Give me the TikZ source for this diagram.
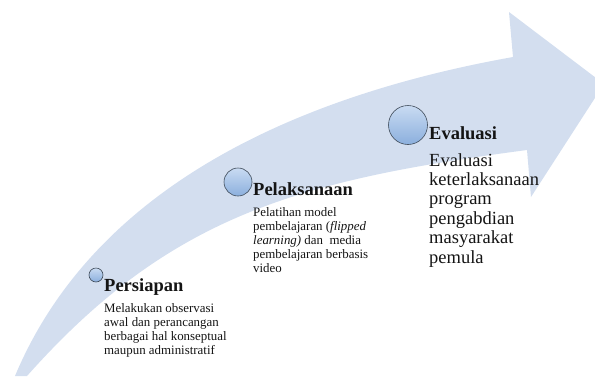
\documentclass[tikz,border=0pt]{standalone}
\usepackage{fontspec}
\setmainfont{Liberation Serif}
\definecolor{band}{HTML}{D3DEEF}
\definecolor{dotrim}{HTML}{3F4B59}
\definecolor{dottop}{HTML}{C9DBF2}
\definecolor{dotbot}{HTML}{8BAFDD}
\definecolor{ink}{HTML}{141414}
\tikzset{
  every node/.style={text=ink,inner sep=0pt},
  dot/.style={circle,draw=dotrim,line width=.6pt,top color=dottop,bottom color=dotbot},
  head/.style={font=\bfseries\fontsize{18.5}{20}\selectfont,anchor=base west},
  body/.style={font=\fontsize{12.9}{13.8}\selectfont,anchor=base west,align=left},
  bigbody/.style={font=\fontsize{18.5}{19.4}\selectfont,anchor=base west,align=left},
}

\begin{document}
\begin{tikzpicture}[x=1pt,y=-1pt]
\path[use as bounding box] (0,0) rectangle (595,376);
\begin{scope}
\clip (0,0) rectangle (595,376);
% curved band with the arrow head cut off at the right edge
\fill[band] (15,376) .. controls (95,185) and (300,95) .. (513,57)
  -- (509,12) -- (604,84) -- (531,197) -- (527,150)
  .. controls (300,180) and (170,215) .. (27,376) -- cycle;
\end{scope}
% Persiapan (body nodes sit on the baseline of their last line)
\node[dot,minimum size=14pt] (dotprep) at (96,275) {};
\node[head] (headprep) at (104,291) {Persiapan};
\node[body] (textprep) at (104,354) {Melakukan observasi\\awal dan perancangan\\berbagai hal konseptual\\maupun administratif};
% Pelaksanaan
\node[dot,minimum size=28pt] (dotexec) at (238,182) {};
\node[head] (headexec) at (253,195) {Pelaksanaan};
\node[body] (textexec) at (253,272) {Pelatihan model\\pembelajaran (\textit{flipped}\\\textit{learning)} dan\ \ media\\pembelajaran berbasis\\video};
% Evaluasi
\node[dot,minimum size=39pt] (doteval) at (408,125) {};
\node[head] (headeval) at (429,139) {Evaluasi};
\node[bigbody] (texteval) at (429,263) {Evaluasi\\keterlaksanaan\\program\\pengabdian\\masyarakat\\pemula};
\end{tikzpicture}
\end{document}
